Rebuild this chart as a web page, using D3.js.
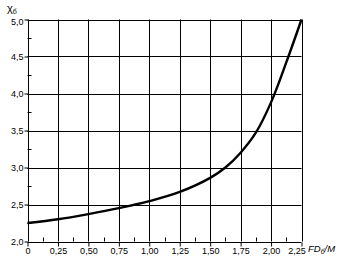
<!DOCTYPE html>
<html><head><meta charset="utf-8">
<script src="https://cdn.jsdelivr.net/npm/d3@7"></script>
<style>
body{margin:0;background:#fff;}
svg{display:block;font-family:"Liberation Sans",Arial,sans-serif;}
</style></head>
<body>
<svg id="c" width="352" height="266"></svg>
<script>
const xVals = [0, 0.25, 0.5, 0.75, 1.0, 1.25, 1.5, 1.625, 1.75, 1.875, 2.0, 2.125, 2.25];
const yVals = [2.25, 2.30, 2.37, 2.45, 2.545, 2.67, 2.86, 3.0, 3.20, 3.47, 3.88, 4.42, 5.0];
const xTicks = [0, 0.25, 0.5, 0.75, 1.0, 1.25, 1.5, 1.75, 2.0, 2.25];
const xTickLabels = ["0", "0,25", "0,50", "0,75", "1,00", "1,25", "1,50", "1,75", "2,00", "2,25"];
const yTicks = [2.0, 2.5, 3.0, 3.5, 4.0, 4.5, 5.0];
const yTickLabels = ["2,0", "2,5", "3,0", "3,5", "4,0", "4,5", "5,0"];

const svg = d3.select("#c");
const x = d3.scaleLinear().domain([0, 2.25]).range([27.5, 301.5]);
const y = d3.scaleLinear().domain([2.0, 5.0]).range([241.5, 19.5]);

// grid
svg.append("g").selectAll("line").data(xTicks).join("line")
  .attr("x1", d => Math.round(x(d)) + 0.5).attr("x2", d => Math.round(x(d)) + 0.5)
  .attr("y1", y(5.0)).attr("y2", y(2.0)).attr("stroke", "#000").attr("stroke-width", 1);
svg.append("g").selectAll("line").data(yTicks).join("line")
  .attr("y1", d => Math.round(y(d)) + 0.5).attr("y2", d => Math.round(y(d)) + 0.5)
  .attr("x1", x(0)).attr("x2", x(2.25)).attr("stroke", "#000").attr("stroke-width", 1);

// x axis
const xAxis = d3.axisBottom(x).tickValues(xTicks).tickSize(4).tickSizeOuter(0)
  .tickFormat((d, i) => xTickLabels[i]);
const gx = svg.append("g").attr("transform", `translate(0,${Math.round(y(2.0)) + 0.5})`).call(xAxis);
gx.select(".domain").remove();
gx.selectAll("text").attr("font-size", 9).attr("y", 5).attr("fill", "#000")
  .attr("dx", (d, i) => i === xTicks.length - 1 ? -5 : 0);
// minor x ticks (inward)
const xMinor = d3.range(0.125, 2.25, 0.25);
svg.append("g").selectAll("line").data(xMinor).join("line")
  .attr("x1", d => Math.round(x(d)) + 0.5).attr("x2", d => Math.round(x(d)) + 0.5)
  .attr("y1", y(2.0)).attr("y2", y(2.0) - 4).attr("stroke", "#000");

// y axis
const yAxis = d3.axisLeft(y).tickValues(yTicks).tickSize(4).tickSizeOuter(0)
  .tickFormat((d, i) => yTickLabels[i]);
const gy = svg.append("g").attr("transform", `translate(${Math.round(x(0)) + 0.5},0)`).call(yAxis);
gy.select(".domain").remove();
gy.selectAll("text").attr("font-size", 9).attr("fill", "#000").attr("x", -5)
  .attr("dy", (d, i) => i === yTicks.length - 1 ? "0.6em" : "0.32em");
const yMinor = d3.range(2.25, 5.0, 0.5);
svg.append("g").selectAll("line").data(yMinor).join("line")
  .attr("y1", d => Math.round(y(d)) + 0.5).attr("y2", d => Math.round(y(d)) + 0.5)
  .attr("x1", x(0)).attr("x2", x(0) + 4).attr("stroke", "#000");

// curve
const pts = xVals.map((v, i) => [v, yVals[i]]);
svg.append("path").datum(pts)
  .attr("d", d3.line().x(d => x(d[0])).y(d => y(d[1])).curve(d3.curveCatmullRom.alpha(0.5)))
  .attr("fill", "none").attr("stroke", "#000").attr("stroke-width", 2.4);

// axis titles
const yt = svg.append("text").attr("x", 7).attr("y", 12).attr("font-size", 11).attr("fill", "#000");
yt.append("tspan").text("χ");
yt.append("tspan").attr("font-size", 7).attr("dy", 2).text("б");

const xt = svg.append("text").attr("x", 308).attr("y", 252).attr("font-size", 9.5)
  .attr("font-style", "italic").attr("fill", "#000");
xt.append("tspan").text("FD");
xt.append("tspan").attr("font-size", 7).attr("dy", 2).text("б");
xt.append("tspan").attr("dy", -2).text("/M");
</script>
</body></html>
